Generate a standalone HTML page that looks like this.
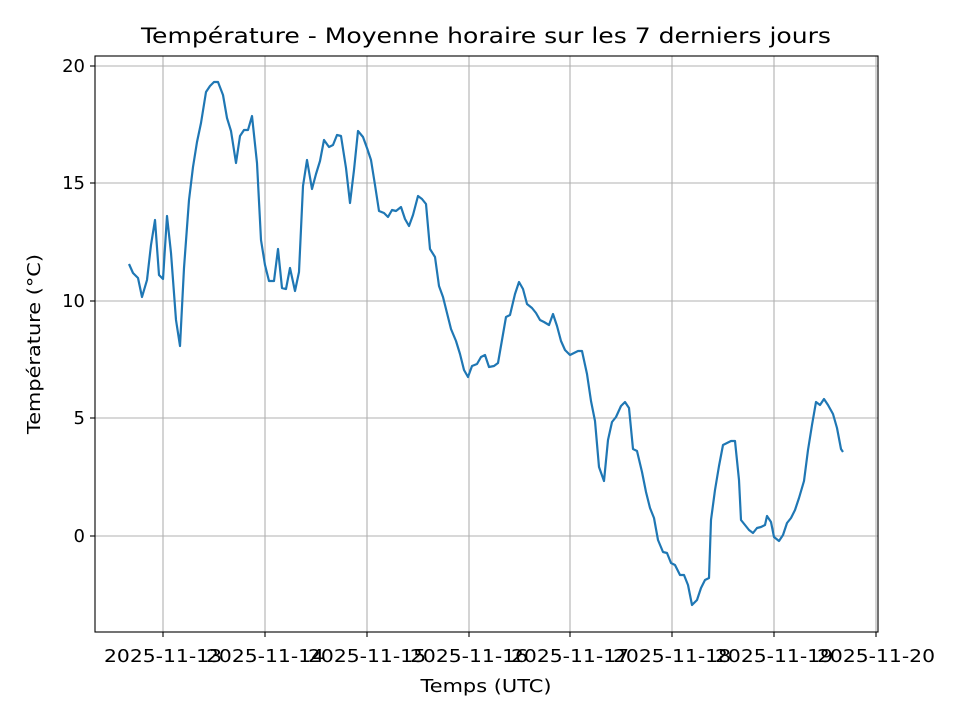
<!DOCTYPE html>
<html><head><meta charset="utf-8"><style>body{margin:0;background:#fff}</style></head><body>
<svg width="960" height="720" xmlns="http://www.w3.org/2000/svg" font-family="'DejaVu Sans', 'Liberation Sans', sans-serif">
<rect width="960" height="720" fill="#fff"/>
<g stroke="#b0b0b0" stroke-width="1.1">
<line x1="163" y1="56" x2="163" y2="632"/><line x1="265" y1="56" x2="265" y2="632"/>
<line x1="367" y1="56" x2="367" y2="632"/><line x1="469" y1="56" x2="469" y2="632"/>
<line x1="570" y1="56" x2="570" y2="632"/><line x1="672" y1="56" x2="672" y2="632"/>
<line x1="774" y1="56" x2="774" y2="632"/><line x1="876" y1="56" x2="876" y2="632"/>
<line x1="95" y1="66" x2="878" y2="66"/><line x1="95" y1="183" x2="878" y2="183"/>
<line x1="95" y1="301" x2="878" y2="301"/><line x1="95" y1="418" x2="878" y2="418"/>
<line x1="95" y1="536" x2="878" y2="536"/>
</g>
<polyline fill="none" stroke="#1f77b4" stroke-width="2.2" stroke-linejoin="round" points="129,264 133,273 138,278 142,297 147,280 151,245 155,220 159,275 163,279 167,216 171,253 176,320 180,346 184,268 189,200 193,167 197,142 201,123 206,92 210,86 214,82 218,82 223,95 227,118 231,131 236,163 240,136 244,130 248,130 252,116 257,163 261,240 265,265 269,281 274,281 278,249 282,288 286,289 290,268 295,291 299,272 303,186 307,160 312,189 316,174 320,161 324,140 329,147 333,145 337,135 341,136 346,168 350,203 354,170 358,131 363,137 367,148 371,160 375,185 379,211 384,213 388,217 392,210 396,211 401,207 405,219 409,226 413,215 418,196 422,199 426,204 430,249 435,257 439,286 443,297 447,313 451,329 456,341 460,354 464,370 468,377 472,366 477,364 481,357 485,355 489,367 494,366 498,363 502,340 506,317 510,315 515,294 519,282 523,289 527,304 532,308 536,313 540,320 544,322 549,325 553,314 557,326 561,341 565,350 570,355 574,353 578,351 582,351 587,374 591,401 595,421 599,467 604,481 608,440 612,422 616,417 621,406 625,402 629,408 633,449 637,451 642,472 646,492 650,508 654,518 658,540 663,552 667,553 671,563 675,565 680,575 684,575 688,585 692,605 697,600 701,588 705,580 709,578 711,520 715,490 719,466 723,445 727,443 731,441 735,441 739,480 741,520 745,525 749,530 753,533 757,528 761,527 765,525 767,516 771,522 774,537 779,541 783,535 787,523 791,518 795,510 799,498 804,481 808,450 812,425 816,402 820,405 824,399 828,405 833,414 837,428 841,449 843,452"/>
<rect x="95" y="56" width="783" height="576" fill="none" stroke="#000" stroke-width="1.1"/>
<g stroke="#000" stroke-width="1.1">
<line x1="163" y1="632" x2="163" y2="637"/><line x1="265" y1="632" x2="265" y2="637"/>
<line x1="367" y1="632" x2="367" y2="637"/><line x1="469" y1="632" x2="469" y2="637"/>
<line x1="570" y1="632" x2="570" y2="637"/><line x1="672" y1="632" x2="672" y2="637"/>
<line x1="774" y1="632" x2="774" y2="637"/><line x1="876" y1="632" x2="876" y2="637"/>
<line x1="90" y1="66" x2="95" y2="66"/><line x1="90" y1="183" x2="95" y2="183"/>
<line x1="90" y1="301" x2="95" y2="301"/><line x1="90" y1="418" x2="95" y2="418"/>
<line x1="90" y1="536" x2="95" y2="536"/>
</g>
<g font-size="18" fill="#000" text-anchor="middle" lengthAdjust="spacingAndGlyphs">
<text x="163" y="662" textLength="118" lengthAdjust="spacingAndGlyphs">2025-11-13</text><text x="265" y="662" textLength="118" lengthAdjust="spacingAndGlyphs">2025-11-14</text>
<text x="367" y="662" textLength="118" lengthAdjust="spacingAndGlyphs">2025-11-15</text><text x="469" y="662" textLength="118" lengthAdjust="spacingAndGlyphs">2025-11-16</text>
<text x="570" y="662" textLength="118" lengthAdjust="spacingAndGlyphs">2025-11-17</text><text x="672" y="662" textLength="118" lengthAdjust="spacingAndGlyphs">2025-11-18</text>
<text x="774" y="662" textLength="118" lengthAdjust="spacingAndGlyphs">2025-11-19</text><text x="876" y="662" textLength="118" lengthAdjust="spacingAndGlyphs">2025-11-20</text>
<text x="486" y="692" textLength="131" lengthAdjust="spacingAndGlyphs">Temps (UTC)</text>
</g>
<g font-size="18" fill="#000" text-anchor="end">
<text x="85" y="72">20</text><text x="85" y="189">15</text><text x="85" y="307">10</text>
<text x="85" y="424">5</text><text x="85" y="542">0</text>
</g>
<text x="40" y="344" font-size="18" text-anchor="middle" transform="rotate(-90 40 344)" textLength="180" lengthAdjust="spacingAndGlyphs">Température (°C)</text>
<text x="486" y="43" font-size="21" text-anchor="middle" textLength="690" lengthAdjust="spacingAndGlyphs">Température - Moyenne horaire sur les 7 derniers jours</text>
</svg>
</body></html>
